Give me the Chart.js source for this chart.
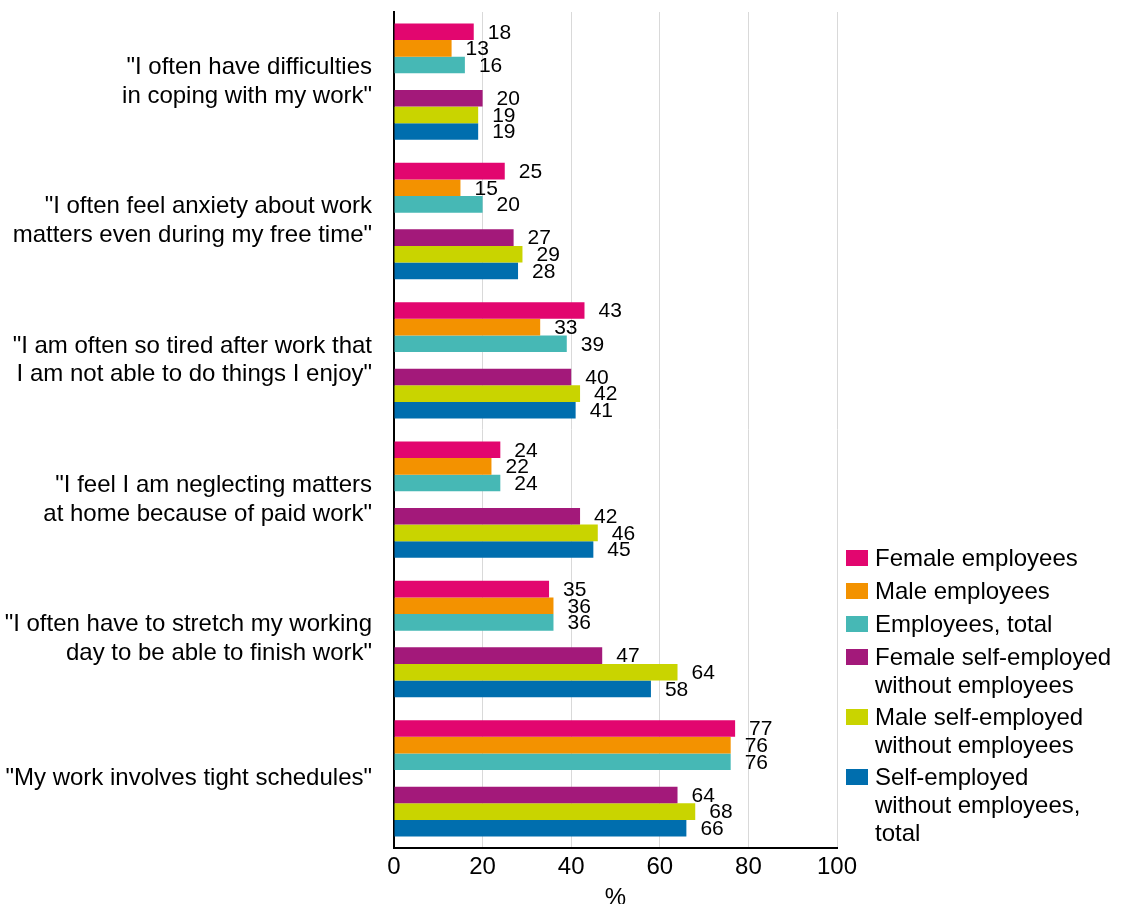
<!DOCTYPE html>
<html>
<head>
<meta charset="utf-8">
<title>Work strain</title>
<script src="https://cdn.jsdelivr.net/npm/chart.js@4.4.1/dist/chart.umd.min.js"></script>
<style>
  html, body { margin: 0; padding: 0; background: #fff; }
  #wrap { width: 1123px; height: 904px; position: relative; }
</style>
</head>
<body>
<div id="wrap"><canvas id="chart" width="1123" height="904"></canvas></div>
<script>
// ---- data ----
const categories = [
  ['"I often have difficulties', 'in coping with my work"'],
  ['"I often feel anxiety about work', 'matters even during my free time"'],
  ['"I am often so tired after work that', 'I am not able to do things I enjoy"'],
  ['"I feel I am neglecting matters', 'at home because of paid work"'],
  ['"I often have to stretch my working', 'day to be able to finish work"'],
  '"My work involves tight schedules"'
];
const femaleEmployees = [18, 25, 43, 24, 35, 77];
const maleEmployees = [13, 15, 33, 22, 36, 76];
const employeesTotal = [16, 20, 39, 24, 36, 76];
const femaleSelfEmployed = [20, 27, 40, 42, 47, 64];
const maleSelfEmployed = [19, 29, 42, 46, 64, 68];
const selfEmployedTotal = [19, 28, 41, 45, 58, 66];
const xTicks = [0, 20, 40, 60, 80, 100];

const seriesNames = [
  ['Female employees'],
  ['Male employees'],
  ['Employees, total'],
  ['Female self-employed', 'without employees'],
  ['Male self-employed', 'without employees'],
  ['Self-employed', 'without employees,', 'total']
];
const seriesColors = ['#e2066f', '#f39200', '#46b8b5', '#a3197a', '#c9d400', '#006eae'];

const FONT = '"Liberation Sans", Arial, sans-serif';
Chart.defaults.font.family = FONT;
Chart.defaults.color = '#000';

// spacer dataset in the middle gives the gap between the two groups of bars
const seriesData = [femaleEmployees, maleEmployees, employeesTotal, null, femaleSelfEmployed, maleSelfEmployed, selfEmployedTotal];
let ci = 0;
const datasets = seriesData.map((d) => {
  if (d === null) {
    return { label: '', data: categories.map(() => null), backgroundColor: 'rgba(0,0,0,0)', spacer: true };
  }
  const ds = { label: seriesNames[ci].join(' '), data: d, backgroundColor: seriesColors[ci], borderWidth: 0 };
  ci++;
  return ds;
});

//------------value labels next to the bars-------------
const valueLabels = {
  id: 'valueLabels',
  afterDatasetsDraw(chart) {
    const ctx = chart.ctx;
    ctx.save();
    ctx.font = '21px ' + FONT;
    ctx.fillStyle = '#000';
    ctx.textAlign = 'left';
    ctx.textBaseline = 'middle';
    chart.data.datasets.forEach((ds, i) => {
      if (ds.spacer) return;
      chart.getDatasetMeta(i).data.forEach((bar, j) => {
        ctx.fillText(String(ds.data[j]), bar.x + 14, bar.y + 1);
      });
    });
    ctx.restore();
  }
};

//------------legend on the right-------------
const sideLegend = {
  id: 'sideLegend',
  afterDraw(chart) {
    const ctx = chart.ctx;
    const area = chart.chartArea;
    const x = area.right + 9;
    let y = area.bottom - 290;
    ctx.save();
    ctx.font = '24px ' + FONT;
    ctx.textAlign = 'left';
    ctx.textBaseline = 'middle';
    seriesNames.forEach((lines, i) => {
      ctx.fillStyle = seriesColors[i];
      ctx.fillRect(x, y - 8, 22, 16);
      ctx.fillStyle = '#000';
      lines.forEach((line, k) => ctx.fillText(line, x + 29, y + 1 + k * 28));
      y += 33 + (lines.length - 1) * 27;
    });
    ctx.restore();
  }
};

new Chart(document.getElementById('chart').getContext('2d'), {
  type: 'bar',
  data: { labels: categories, datasets: datasets },
  options: {
    indexAxis: 'y',
    responsive: false,
    animation: false,
    categoryPercentage: 0.835,
    barPercentage: 1,
    layout: { padding: { top: 12, right: 286, left: 0, bottom: 0 } },
    plugins: {
      legend: { display: false },
      tooltip: { enabled: false }
    },
    scales: {
      x: {
        min: 0,
        max: 100,
        afterBuildTicks: (scale) => { scale.ticks = xTicks.map(v => ({ value: v })); },
        afterFit: (scale) => { scale.height = 56; },
        grid: { color: '#d9d9d9', lineWidth: 1, drawTicks: false },
        border: { display: true, color: '#000', width: 2 },
        ticks: { font: { size: 24 }, color: '#000', padding: 5 },
        title: { display: true, text: '%', font: { size: 24 }, color: '#000', padding: { top: 0, bottom: -9 } }
      },
      y: {
        afterFit: (scale) => {
          scale.width = 394;
          scale.paddingTop = 0;
          scale.paddingBottom = 0;
        },
        grid: { display: false, drawTicks: false },
        border: { display: true, color: '#000', width: 2 },
        ticks: { font: { size: 24, lineHeight: 1.2 }, color: '#000', padding: 22 }
      }
    }
  },
  plugins: [valueLabels, sideLegend]
});
</script>
</body>
</html>
